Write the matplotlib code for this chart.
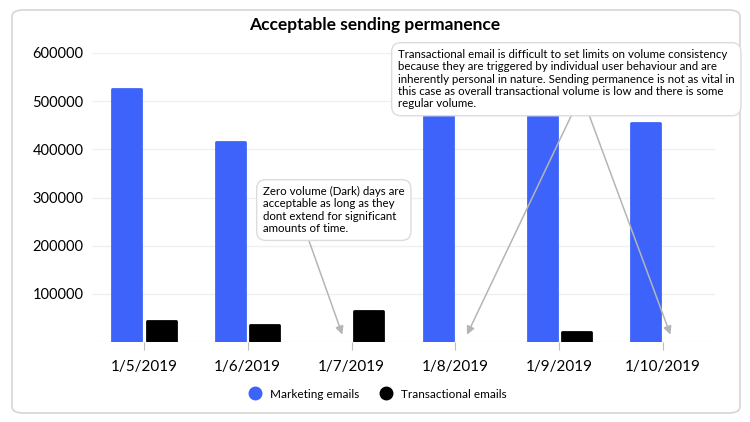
import matplotlib.pyplot as plt
import numpy as np
from matplotlib.patches import FancyBboxPatch

plt.rcParams["font.family"] = ["Lato", "DejaVu Sans"]

dates = ["1/5/2019", "1/6/2019", "1/7/2019", "1/8/2019", "1/9/2019", "1/10/2019"]
marketing = [525000, 416000, 0, 560000, 510000, 455000]
transactional = [44000, 35000, 64000, 0, 20000, 0]

title = "Acceptable sending permanence"
note_dark = ("Zero volume (Dark) days are\nacceptable as long as they\n"
             "dont extend for significant\namounts of time.")
note_trans = ("Transactional email is difficult to set limits on volume consistency\n"
              "because they are triggered by individual user behaviour and are\n"
              "inherently personal in nature. Sending permanence is not as vital in\n"
              "this case as overall transactional volume is low and there is some\n"
              "regular volume.")

BLUE = "#3d63fb"
W, H = 750, 422

fig = plt.figure(figsize=(7.5, 4.22), dpi=100)

# card background, kept behind the axes
card = FancyBboxPatch((12 / W, 9 / H), 728 / W, 403 / H,
                      boxstyle="round,pad=0,rounding_size=0.015",
                      transform=fig.transFigure, facecolor="white",
                      edgecolor="#d6d6d6", linewidth=1.2, zorder=-10)
fig.patches.append(card)

ax = fig.add_axes([92 / W, 1 - 342 / H, 623 / W, 289 / H])
ax.set_facecolor("none")

x = np.arange(len(dates))
bw = 0.28
# rounded look from a round-joined edge; zero bars get no edge at all
ax.bar(x - 0.165, marketing, bw, color=BLUE, edgecolor=BLUE,
       linewidth=[2 if v else 0 for v in marketing],
       joinstyle="round", label="Marketing emails", zorder=3)
ax.bar(x + 0.165, transactional, bw, color="black", edgecolor="black",
       linewidth=[2 if v else 0 for v in transactional],
       joinstyle="round", label="Transactional emails", zorder=3)

ax.set_xlim(-0.5, len(dates) - 0.5)
ax.set_ylim(0, 600000)
ax.set_yticks(range(0, 600001, 100000))
ax.set_yticklabels([""] + [str(v) for v in range(100000, 600001, 100000)])
ax.grid(axis="y", color="#f0f0f0", linewidth=1, zorder=0)
ax.set_xticks(x)
ax.set_xticklabels(dates, fontsize=11)
ax.tick_params(axis="y", length=0, labelsize=10.5, pad=6)
ax.tick_params(axis="x", length=6, color="#bdbdbd", pad=7)
for s in ax.spines.values():
    s.set_visible(False)

fig.text(0.5, 1 - 25 / H, title, ha="center", va="center",
         fontsize=12.5, fontweight="bold")

box = dict(boxstyle="round,pad=0.55,rounding_size=0.8", facecolor="white",
           edgecolor="#dcdcdc", linewidth=1)
arrow = dict(arrowstyle="-|>", color="#b5b5b5", lw=1.1, mutation_scale=12)

# dark days note
fig.text(263 / W, 1 - 186 / H, note_dark, ha="left", va="top", fontsize=8.3,
         linespacing=1.15, bbox=box, zorder=5)
ax.annotate("", xy=(1.92, 10000), xytext=(308 / W, 1 - 238 / H),
            textcoords="figure fraction", arrowprops=arrow, zorder=4)

# transactional note
for tip, start in [((3.1, 10000), 573), ((5.08, 10000), 588)]:
    ax.annotate("", xy=tip, xytext=(start / W, 1 - 112 / H),
                textcoords="figure fraction", arrowprops=arrow, zorder=4)
fig.text(398 / W, 1 - 49 / H, note_trans, ha="left", va="top", fontsize=8.3,
         linespacing=1.15, bbox=box, zorder=6)

leg = fig.legend(handles=[
    plt.Line2D([], [], marker="o", ls="", color=BLUE, markersize=9, label="Marketing emails"),
    plt.Line2D([], [], marker="o", ls="", color="black", markersize=9, label="Transactional emails"),
], loc="center", bbox_to_anchor=(0.5, 1 - 394 / H), ncol=2, frameon=False,
    fontsize=8.5, handletextpad=0.3, columnspacing=1.2)

fig.savefig("out.png", dpi=100)
